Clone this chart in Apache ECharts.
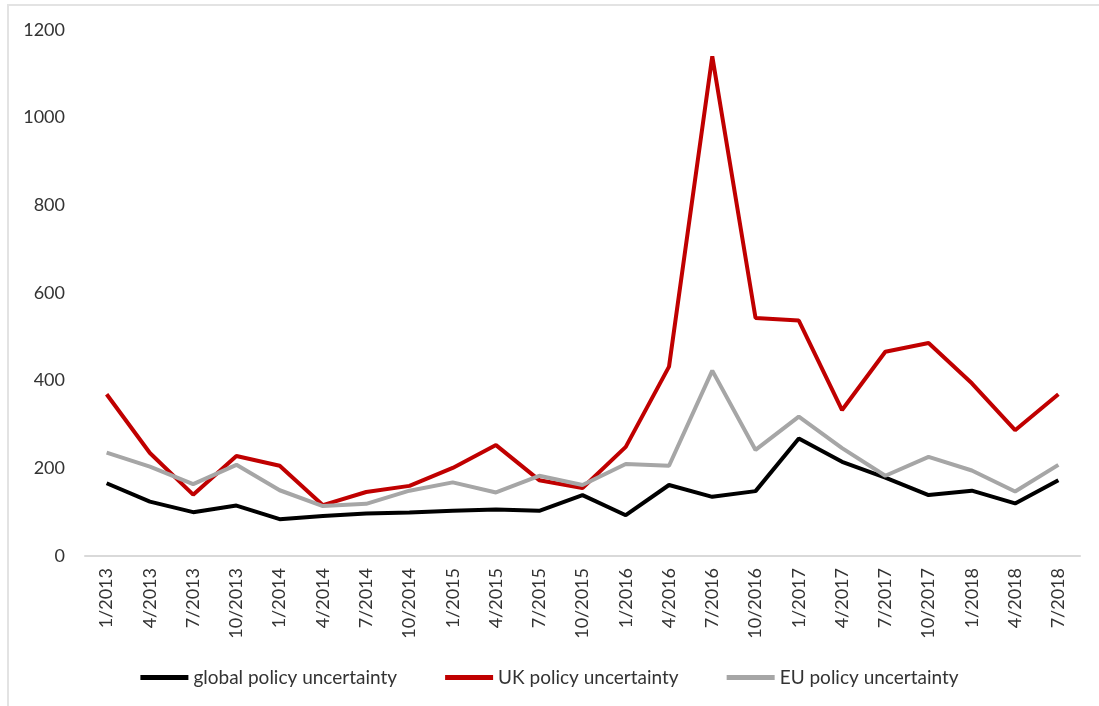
<!DOCTYPE html>
<html>
<head>
<meta charset="utf-8">
<script src="https://cdn.jsdelivr.net/npm/echarts@6/dist/echarts.min.js"></script>
<style>
  html, body { margin: 0; padding: 0; background: #fff; }
  #main { width: 1099px; height: 706px; }
</style>
</head>
<body>
<div id="main"></div>
<script>
// 横轴季度
var quarters = ['1/2013', '4/2013', '7/2013', '10/2013', '1/2014', '4/2014', '7/2014', '10/2014',
    '1/2015', '4/2015', '7/2015', '10/2015', '1/2016', '4/2016', '7/2016', '10/2016',
    '1/2017', '4/2017', '7/2017', '10/2017', '1/2018', '4/2018', '7/2018'];
// 三条曲线
var globalData = [166, 124, 100, 115, 84, 91, 97, 99, 103, 106, 103, 139, 93, 162, 135, 148, 268, 215, 179, 139, 149, 120, 173];
var ukData = [369, 235, 140, 228, 206, 116, 146, 160, 201, 253, 173, 155, 249, 432, 1140, 543, 537, 333, 466, 486, 394, 287, 369];
var euData = [236, 204, 164, 208, 150, 114, 119, 149, 168, 145, 183, 162, 210, 206, 423, 242, 318, 246, 183, 226, 195, 147, 208];

var myChart = echarts.init(document.getElementById('main'));

function lineSeries(name, data, color) {
    return {
        name: name,
        type: 'line',
        data: data,
        symbol: 'none',
        lineStyle: { color: color, width: 4 },
        itemStyle: { color: color },
        animation: false
    };
}

var option = {
    backgroundColor: '#fff',
    textStyle: { fontFamily: 'Lato' },
    graphic: [{
        type: 'rect',
        shape: { x: 8, y: 5, width: 1200, height: 800 },
        style: { fill: 'none', stroke: '#e3e3e3', lineWidth: 2 },
        silent: true
    }],
    grid: { left: 85, right: 19, top: 30, bottom: 150 },
    legend: {
        bottom: 14,
        left: 'center',
        icon: 'rect',
        itemWidth: 48,
        itemHeight: 5,
        itemGap: 48,
        textStyle: { fontSize: 19, color: '#333', fontFamily: 'Lato' },
        data: ['global policy uncertainty', 'UK policy uncertainty', 'EU policy uncertainty']
    },
    xAxis: {
        type: 'category',
        data: quarters,
        boundaryGap: true,
        axisLine: { lineStyle: { color: '#d9d9d9', width: 2 } },
        axisTick: { show: false },
        axisLabel: {
            rotate: 90,
            interval: 0,
            fontSize: 18,
            color: '#333',
            margin: 12,
            fontFamily: 'Lato'
        }
    },
    yAxis: {
        type: 'value',
        min: 0,
        max: 1200,
        interval: 200,
        axisLine: { show: false },
        axisTick: { show: false },
        splitLine: { show: false },
        axisLabel: {
            fontSize: 18,
            color: '#333',
            margin: 20,
            fontFamily: 'Lato',
            formatter: function (v) { return String(v); }
        }
    },
    series: [
        lineSeries('global policy uncertainty', globalData, '#000000'),
        lineSeries('UK policy uncertainty', ukData, '#c00000'),
        lineSeries('EU policy uncertainty', euData, '#a6a6a6')
    ]
};

myChart.setOption(option);
</script>
</body>
</html>
